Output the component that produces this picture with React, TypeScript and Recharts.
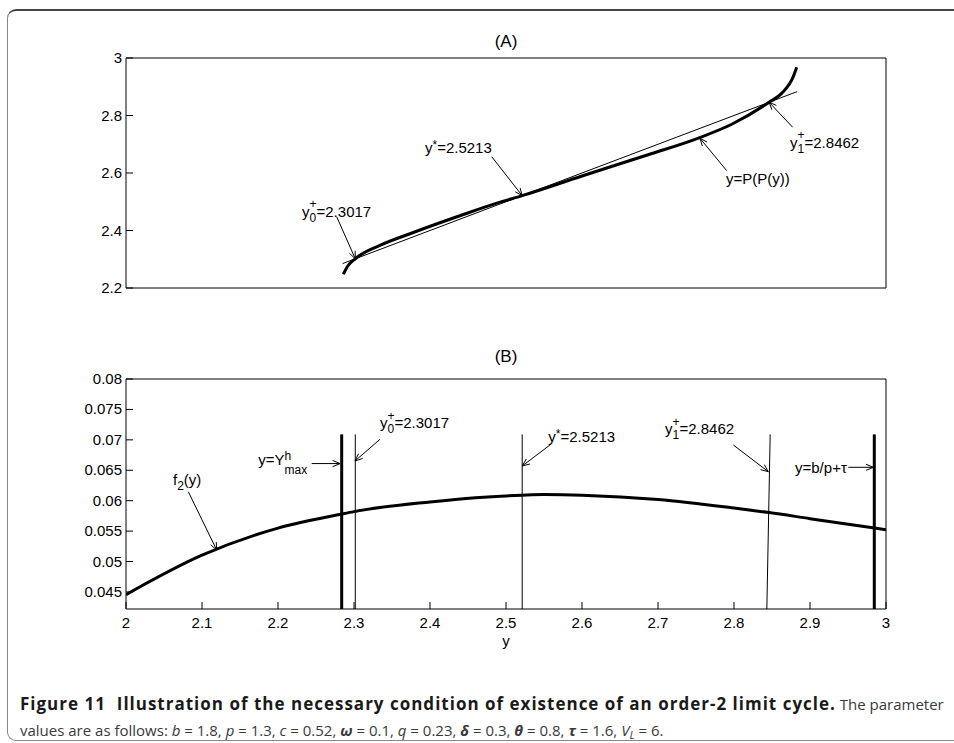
import React from 'react';
import { LineChart, Line, XAxis, YAxis, ReferenceLine, ReferenceDot } from 'recharts';

// ---- panel (A): y = P(P(y)) against the diagonal ----
const ppX = [2.2859, 2.2912, 2.3017, 2.334, 2.378, 2.444, 2.488, 2.5213, 2.6, 2.687, 2.755, 2.797, 2.8462, 2.8627, 2.878, 2.8825];
const ppY = [2.2477, 2.2741, 2.3017, 2.348, 2.393, 2.4556, 2.495, 2.5213, 2.5896, 2.6636, 2.7233, 2.7696, 2.8462, 2.877, 2.935, 2.9676];
const diagX = [2.285, 2.883];
const diagY = [2.285, 2.883];

// ---- panel (B): f2(y) with marker lines ----
const f2X = [2.0, 2.1, 2.2, 2.2838, 2.3, 2.4, 2.46, 2.5213, 2.55, 2.6, 2.7, 2.8, 2.8462, 2.9, 2.985, 3.0];
const f2Y = [0.04456, 0.05104, 0.0555, 0.0578, 0.0582, 0.0598, 0.0605, 0.0609, 0.061, 0.0609, 0.0602, 0.0588, 0.05805, 0.05705, 0.0555, 0.05522];
const thickLinesX = [2.2838, 2.9846];
const thinLinesXLow = [2.3017, 2.5213, 2.8432];
const thinLinesXHigh = [2.3017, 2.5213, 2.8476];
const markerLow = 0.0422;
const markerHigh = 0.0709;

const xTicks = [2, 2.1, 2.2, 2.3, 2.4, 2.5, 2.6, 2.7, 2.8, 2.9, 3];
const topYTicks = [2.2, 2.4, 2.6, 2.8, 3];
const botYTicks = [0.045, 0.05, 0.055, 0.06, 0.065, 0.07, 0.075, 0.08];

const ppData = ppX.map((x, i) => ({ x, y: ppY[i] }));
const diagData = diagX.map((x, i) => ({ x, y: diagY[i] }));
const f2Data = f2X.map((x, i) => ({ x, y: f2Y[i] }));

type Part = { t: string; k?: 'sup' | 'sub'; dy?: number; stack?: boolean };
type Note = { parts: Part[]; at: [number, number]; from: [number, number]; to: [number, number] };

const topNotes: Note[] = [
  { parts: [{ t: 'y' }, { t: '+', k: 'sup', dy: -9, stack: true }, { t: '0', k: 'sub' }, { t: '=2.3017' }], at: [2.2316, 2.448], from: [2.2772, 2.448], to: [2.3017, 2.3017] },
  { parts: [{ t: 'y' }, { t: '*', k: 'sup', dy: -4 }, { t: '=2.5213' }], at: [2.3934, 2.6685], from: [2.4812, 2.6567], to: [2.5213, 2.5213] },
  { parts: [{ t: 'y' }, { t: '+', k: 'sup', dy: -9, stack: true }, { t: '1', k: 'sub' }, { t: '=2.8462' }], at: [2.8737, 2.686], from: [2.8772, 2.759], to: [2.8462, 2.8462] },
  { parts: [{ t: 'y=P(P(y))' }], at: [2.7895, 2.5617], from: [2.7904, 2.608], to: [2.7553, 2.7205] },
];

const botNotes: Note[] = [
  { parts: [{ t: 'f' }, { t: '2', k: 'sub' }, { t: '(y)' }], at: [2.0618, 0.06258], from: [2.082, 0.06148], to: [2.1193, 0.0519] },
  { parts: [{ t: 'y=Y' }, { t: 'h', k: 'sup', dy: -5, stack: true }, { t: 'max', k: 'sub', dy: 9 }], at: [2.1741, 0.06587], from: [2.2443, 0.0661], to: [2.2816, 0.0661] },
  { parts: [{ t: 'y' }, { t: '+', k: 'sup', dy: -8, stack: true }, { t: '0', k: 'sub' }, { t: '=2.3017' }], at: [2.3342, 0.0719], from: [2.3342, 0.07009], to: [2.3013, 0.06653] },
  { parts: [{ t: 'y' }, { t: '*', k: 'sup', dy: -4 }, { t: '=2.5213' }], at: [2.5557, 0.0697], from: [2.5579, 0.06916], to: [2.5214, 0.06571] },
  { parts: [{ t: 'y' }, { t: '+', k: 'sup', dy: -8, stack: true }, { t: '1', k: 'sub' }, { t: '=2.8462' }], at: [2.7092, 0.07096], from: [2.7991, 0.06916], to: [2.8451, 0.06477] },
  { parts: [{ t: 'y=b/p+τ' }], at: [2.8803, 0.06451], from: [2.9504, 0.06549], to: [2.9833, 0.06549] },
];

const FONT = '"Liberation Sans", Arial, Helvetica, sans-serif';
const NOTE_FS = 15;
const SMALL_FS = 12;
const TICK_FS = 15;

// Arial advance widths (em) for the glyphs used in the annotations
const ADV: Record<string, number> = {
  '0': 0.556, '1': 0.556, '2': 0.556, '3': 0.556, '4': 0.556, '5': 0.556, '6': 0.556, '7': 0.556, '8': 0.556, '9': 0.556,
  '.': 0.278, '=': 0.584, '+': 0.584, '*': 0.389, '(': 0.333, ')': 0.333, '/': 0.278,
  y: 0.5, Y: 0.667, P: 0.667, f: 0.278, h: 0.556, m: 0.833, a: 0.556, x: 0.5, b: 0.556, p: 0.556,
};
const textW = (s: string, fs: number) => s.split('').reduce((a, c) => a + (ADV[c] ?? 0.55) * fs, 0);

function MathText({ cx, cy, parts }: { cx: number; cy: number; parts: Part[] }) {
  let x = cx;
  let pending = 0;
  const out: React.ReactNode[] = [];
  parts.forEach((p, i) => {
    const fs = p.k ? SMALL_FS : NOTE_FS;
    const dy = p.k === 'sup' ? p.dy ?? -8 : p.k === 'sub' ? p.dy ?? 5 : 0;
    const w = textW(p.t, fs);
    out.push(
      <text key={i} x={x} y={cy + dy} fontSize={fs}>
        {p.t}
      </text>
    );
    if (p.stack) pending = Math.max(pending, w);
    else {
      x += Math.max(w, pending);
      pending = 0;
    }
  });
  return (
    <g fontFamily={FONT} fill="#000">
      {out}
    </g>
  );
}

function Arrow(props: any) {
  const { x1, y1, x2, y2 } = props;
  const a = Math.atan2(y2 - y1, x2 - x1);
  const len = 8;
  const spread = 0.4;
  const h1x = x2 - len * Math.cos(a - spread);
  const h1y = y2 - len * Math.sin(a - spread);
  const h2x = x2 - len * Math.cos(a + spread);
  const h2y = y2 - len * Math.sin(a + spread);
  return (
    <g stroke="#000" strokeWidth={1} fill="none">
      <line x1={x1} y1={y1} x2={x2} y2={y2} />
      <path d={`M${h1x},${h1y} L${x2},${y2} L${h2x},${h2y}`} />
    </g>
  );
}

function renderNotes(notes: Note[]) {
  return notes.flatMap((n, i) => [
    <ReferenceLine
      key={`a${i}`}
      xAxisId="b"
      yAxisId="l"
      segment={[{ x: n.from[0], y: n.from[1] }, { x: n.to[0], y: n.to[1] }]}
      ifOverflow="visible"
      shape={(p: any) => <Arrow {...p} />}
    />,
    <ReferenceDot
      key={`t${i}`}
      xAxisId="b"
      yAxisId="l"
      x={n.at[0]}
      y={n.at[1]}
      ifOverflow="visible"
      shape={(p: any) => <MathText cx={p.cx} cy={p.cy} parts={n.parts} />}
    />,
  ]);
}

const XTick = (p: any) => (
  <text x={p.x} y={p.y + 10} textAnchor="middle" fontSize={TICK_FS} fontFamily={FONT} fill="#000">
    {String(p.payload.value)}
  </text>
);
const YTick = (p: any) => (
  <text x={p.x} y={p.y + 5} textAnchor="end" fontSize={TICK_FS} fontFamily={FONT} fill="#000">
    {String(p.payload.value)}
  </text>
);

function Frame({ yDomain, yTicks, showX, xLabel }: { yDomain: [number, number]; yTicks: number[]; showX: boolean; xLabel?: string }) {
  return [
    <XAxis
      key="xb"
      xAxisId="b"
      dataKey="x"
      type="number"
      domain={[2, 3]}
      ticks={xTicks}
      interval={0}
      allowDataOverflow
      stroke="#000"
      tickSize={-7}
      tickMargin={16}
      tick={showX ? XTick : false}
      height={showX ? 40 : 10}
      label={xLabel ? { value: xLabel, position: 'insideBottom', offset: 3, fill: '#000', fontSize: TICK_FS, fontFamily: FONT } : undefined}
    />,
    <XAxis key="xt" xAxisId="t" orientation="top" dataKey="x" type="number" domain={[2, 3]} ticks={xTicks} interval={0} allowDataOverflow stroke="#000" tickSize={-7} tick={false} height={10} />,
    <YAxis key="yl" yAxisId="l" type="number" domain={yDomain} ticks={yTicks} interval={0} allowDataOverflow stroke="#000" tickSize={-7} tickMargin={11} tick={YTick} width={60} />,
    <YAxis key="yr" yAxisId="r" orientation="right" type="number" domain={yDomain} ticks={yTicks} interval={0} allowDataOverflow stroke="#000" tickSize={-7} tick={false} width={20} />,
  ];
}

function TopChart() {
  return (
    <LineChart width={954} height={300} margin={{ top: 48, right: 48, bottom: 2, left: 66 }}>
      {Frame({ yDomain: [2.2, 3], yTicks: topYTicks, showX: false })}
      <Line xAxisId="b" yAxisId="l" data={diagData} dataKey="y" type="linear" stroke="#000" strokeWidth={1} dot={false} isAnimationActive={false} />
      <Line xAxisId="b" yAxisId="l" data={ppData} dataKey="y" type="monotone" stroke="#000" strokeWidth={3} dot={false} isAnimationActive={false} />
      {renderNotes(topNotes)}
    </LineChart>
  );
}

function BottomChart() {
  return (
    <LineChart width={954} height={340} margin={{ top: 49, right: 48, bottom: 11, left: 66 }}>
      {Frame({ yDomain: [markerLow, 0.08], yTicks: botYTicks, showX: true, xLabel: 'y' })}
      <Line xAxisId="b" yAxisId="l" data={f2Data} dataKey="y" type="monotone" stroke="#000" strokeWidth={3} dot={false} isAnimationActive={false} />
      {thickLinesX.map((x, i) => (
        <Line key={`k${i}`} xAxisId="b" yAxisId="l" data={[{ x, y: markerLow }, { x, y: markerHigh }]} dataKey="y" type="linear" stroke="#000" strokeWidth={3} dot={false} isAnimationActive={false} />
      ))}
      {thinLinesXLow.map((x, i) => (
        <Line key={`n${i}`} xAxisId="b" yAxisId="l" data={[{ x, y: markerLow }, { x: thinLinesXHigh[i], y: markerHigh }]} dataKey="y" type="linear" stroke="#000" strokeWidth={1} dot={false} isAnimationActive={false} />
      ))}
      {renderNotes(botNotes)}
    </LineChart>
  );
}

const title: React.CSSProperties = { position: 'absolute', left: 0, width: 1012, textAlign: 'center', fontFamily: FONT, fontSize: 17, lineHeight: '16px', color: '#000' };
const capLine: React.CSSProperties = { position: 'absolute', left: 20, whiteSpace: 'nowrap', fontFamily: '"Open Sans", "Noto Sans", sans-serif', fontSize: 15, lineHeight: '26px', color: '#3a3a3a' };
const capBold: React.CSSProperties = { color: '#1a1a1a', fontSize: 17, letterSpacing: '1px' };

export default function App() {
  return (
    <div style={{ position: 'absolute', left: 0, top: 0, width: 954, height: 743, overflow: 'hidden', background: '#fff' }}>
      <div style={{ position: 'absolute', left: 7, top: 9, width: 1000, height: 729, borderTop: '2px solid #444', borderLeft: '1.5px solid #888', borderBottom: '1.5px solid #888', borderTopLeftRadius: 9, borderBottomLeftRadius: 9 }} />
      <div style={{ ...title, top: 34 }}>(A)</div>
      <div style={{ ...title, top: 349 }}>(B)</div>
      <div style={{ position: 'absolute', left: 0, top: 0 }}>
        <TopChart />
      </div>
      <div style={{ position: 'absolute', left: 0, top: 320 }}>
        <BottomChart />
      </div>
      <div style={{ ...capLine, top: 691 }}>
        <b style={capBold}>Figure 11&nbsp; Illustration of the necessary condition of existence of an order-2 limit cycle.</b> The parameter
      </div>
      <div style={{ ...capLine, top: 717 }}>
        values are as follows: <i>b</i> = 1.8, <i>p</i> = 1.3, <i>c</i> = 0.52, <b><i>ω</i></b> = 0.1, <i>q</i> = 0.23, <b><i>δ</i></b> = 0.3, <b><i>θ</i></b> = 0.8, <b><i>τ</i></b> = 1.6, <i>V</i>
        <sub style={{ fontSize: 11, verticalAlign: '-3px' }}>
          <i>L</i>
        </sub>{' '}
        = 6.
      </div>
    </div>
  );
}
